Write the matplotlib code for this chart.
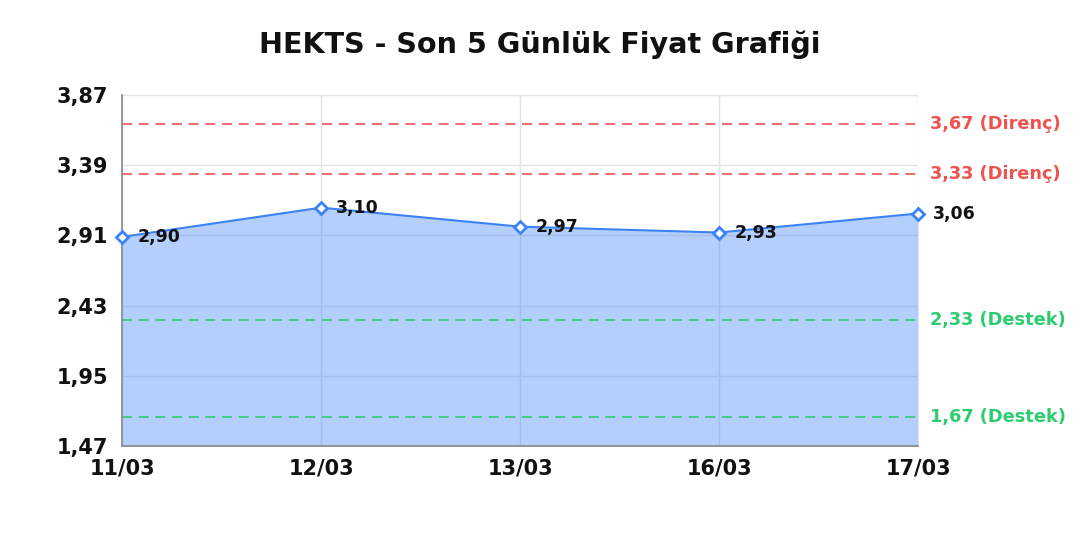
import matplotlib
matplotlib.use("Agg")
import matplotlib.pyplot as plt
from matplotlib.ticker import FixedLocator, FixedFormatter

plt.rcParams["font.family"] = ["DejaVu Sans"]

title = "HEKTS - Son 5 Günlük Fiyat Grafiği"
dates = ["11/03", "12/03", "13/03", "16/03", "17/03"]
prices = [2.90, 3.10, 2.97, 2.93, 3.06]
resistance = [3.67, 3.33]
support = [2.33, 1.67]
y_ticks = [1.47, 1.95, 2.43, 2.91, 3.39, 3.87]

def fmt(v):
    return f"{v:.2f}".replace(".", ",")

line_color = "#3b82f6"
red = "#ef5350"
green = "#2ecc71"

fig = plt.figure(figsize=(10.8, 5.4), dpi=100)
ax = fig.add_axes([0.113, 0.174, 0.737, 0.650])

x = list(range(len(dates)))
ax.set_xlim(0, len(dates) - 1)
ax.set_ylim(y_ticks[0], y_ticks[-1])

ax.grid(True, color="#e3e3e3", linewidth=1.0, zorder=0)
ax.set_axisbelow(True)

ax.fill_between(x, prices, y_ticks[0], color=line_color, alpha=0.38, linewidth=0, zorder=1)
ax.plot(x, prices, color=line_color, linewidth=1.5, zorder=3,
        marker="D", markersize=6, markerfacecolor="white",
        markeredgecolor=line_color, markeredgewidth=2, clip_on=False)

for xi, p in zip(x, prices):
    ax.annotate(fmt(p), (xi, p), xytext=(11, 0), textcoords="offset points",
                ha="left", va="center", fontsize=12.5, fontweight="bold", color="#111111",
                zorder=5, annotation_clip=False)

for r in resistance:
    ax.axhline(r, color=red, linestyle=(0, (6, 4)), linewidth=1.2, zorder=2)
    ax.annotate(f"{fmt(r)} (Direnç)", (1, r), xycoords=("axes fraction", "data"),
                xytext=(9, 0), textcoords="offset points", ha="left", va="center",
                fontsize=12.8, fontweight="bold", color=red, annotation_clip=False)
for s in support:
    ax.axhline(s, color=green, linestyle=(0, (6, 4)), linewidth=1.2, zorder=2)
    ax.annotate(f"{fmt(s)} (Destek)", (1, s), xycoords=("axes fraction", "data"),
                xytext=(9, 0), textcoords="offset points", ha="left", va="center",
                fontsize=12.8, fontweight="bold", color=green, annotation_clip=False)

ax.yaxis.set_major_locator(FixedLocator(y_ticks))
ax.yaxis.set_major_formatter(FixedFormatter([fmt(v) for v in y_ticks]))
ax.set_xticks(x)
ax.set_xticklabels(dates)
for lab in ax.get_xticklabels() + ax.get_yticklabels():
    lab.set_fontweight("bold")
    lab.set_fontsize(15)
    lab.set_color("#111111")
ax.tick_params(axis="both", length=0)
ax.tick_params(axis="y", pad=10)
ax.tick_params(axis="x", pad=9)

for side in ["top", "right"]:
    ax.spines[side].set_visible(False)
for side in ["left", "bottom"]:
    ax.spines[side].set_color("#888888")
    ax.spines[side].set_linewidth(1.2)

fig.text(0.5, 0.918, title, ha="center", va="center", fontsize=20.6, fontweight="bold", color="#111111")

fig.savefig("out.png", dpi=100)
